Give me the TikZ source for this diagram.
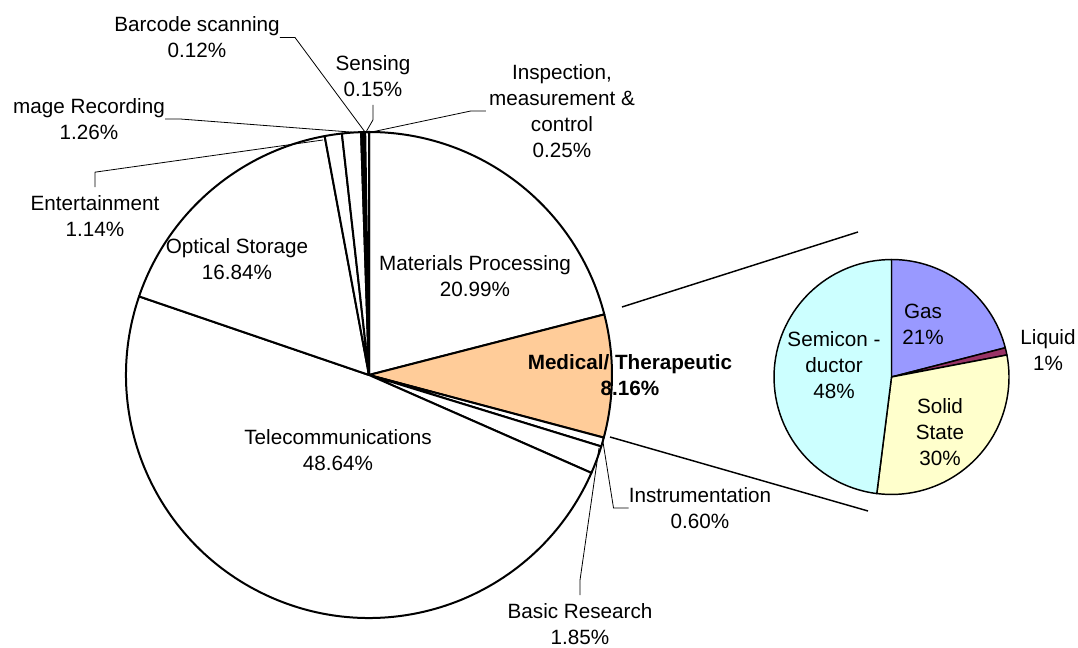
\documentclass[tikz,border=0pt]{standalone}
\usepackage{fontspec}
\setmainfont{Liberation Sans}
\definecolor{medcol}{HTML}{FFCC99}
\definecolor{gascol}{HTML}{9999FF}
\definecolor{liqcol}{HTML}{993366}
\definecolor{solcol}{HTML}{FFFFCC}
\definecolor{semcol}{HTML}{CCFFFF}
\tikzstyle{slice} = [draw=black, line width=1.5pt, line join=round]
\tikzstyle{minislice} = [draw=black, line width=1.1pt, line join=round]
\tikzstyle{lbl} = [align=center, inner sep=0pt, font=\fontsize{15.5}{19.5}\selectfont]
\tikzstyle{leader} = [draw=black, line width=0.6pt]
\tikzstyle{zoomline} = [draw=black, line width=1.1pt]

\begin{document}
\begin{tikzpicture}[x=0.75pt, y=0.75pt]
\useasboundingbox (0,0) rectangle (1078,648);

\coordinate (big) at (369,273);
\coordinate (mini) at (891.5,271);

%% big pie
\foreach \a/\b/\c in {90/14.436/white, 14.436/-14.94/medcol, -14.94/-17.1/white,
    -17.1/-23.76/white, -23.76/-198.864/white, -198.864/-259.488/white,
    -259.488/-263.592/white, -263.592/-268.128/white, -268.128/-268.56/white,
    -268.56/-269.1/white, -269.1/-270/white}
  \filldraw[slice, fill=\c] (big) -- ++(\a:243) arc[start angle=\a, end angle=\b, radius=182.25pt] -- cycle;

%% small pie
\foreach \a/\b/\c in {90/14.4/gascol, 14.4/10.8/liqcol, 10.8/-97.2/solcol, -97.2/-270/semcol}
  \filldraw[minislice, fill=\c] (mini) -- ++(\a:117.5) arc[start angle=\a, end angle=\b, radius=88.1pt] -- cycle;

%% labels
\node (barcode) [lbl] at (197,610.5) {Barcode scanning\\0.12\%};
\node (sensing) [lbl] at (373,572) {Sensing\\0.15\%};
\node (insp) [lbl] at (562,537) {Inspection,\\measurement \&\\control\\0.25\%};
\node (imgrec) [lbl] at (89,529) {mage Recording\\1.26\%};
\node (ent) [lbl] at (95,432) {Entertainment\\1.14\%};
\node (optical) [lbl] at (237,389) {Optical Storage\\16.84\%};
\node (matproc) [lbl] at (475,371.5) {Materials Processing\\20.99\%};
\node (medical) [lbl, font=\fontsize{15.5}{19.5}\selectfont\bfseries] at (630,273) {Medical/ Therapeutic\\8.16\%};
\node (telecom) [lbl] at (338,198) {Telecommunications\\48.64\%};
\node (instr) [lbl] at (700,140) {Instrumentation\\0.60\%};
\node (basic) [lbl] at (580,24) {Basic Research\\1.85\%};

\node (gas) [lbl] at (923,324) {Gas\\21\%};
\node (semi) [lbl] at (834,283) {Semicon -\\ductor\\48\%};
\node (solid) [lbl] at (940,216) {Solid\\State\\30\%};
\node (liquid) [lbl] at (1048,298) {Liquid\\1\%};

%% points on the rim
\coordinate (pBar) at (365,516);
\coordinate (pSens) at (366,516);
\coordinate (pInsp) at (367,515);
\coordinate (pImg) at (363,515);
\coordinate (pEnt) at (323,508);
\coordinate (pInstr) at (603,206);
\coordinate (pBasic) at (599,200);

%% leaders
\draw [leader] (barcode.east) -- ++(15,0) -- (pBar);
\draw [leader] (sensing.south) ++(0,-8) -- ++(0,-15) -- (pSens);
\draw [leader] (insp.west) ++(-3,0) -- ++(-15,0) -- (pInsp);
\draw [leader] (imgrec.east) -- ++(15,0) -- (pImg);
\draw [leader] (ent.north) ++(0,8) -- ++(0,15) -- (pEnt);
\draw [leader] (instr.west) -- ++(-15,0) -- (pInstr);
\draw [leader] (basic.north) ++(0,8) -- ++(0,15) -- (pBasic);

%% zoom lines
\coordinate (zTopA) at (622,341);
\coordinate (zTopB) at (858,416);
\coordinate (zBotA) at (610,211);
\coordinate (zBotB) at (868,137);
\draw [zoomline] (zTopA) -- (zTopB);
\draw [zoomline] (zBotA) -- (zBotB);

\end{tikzpicture}
\end{document}
